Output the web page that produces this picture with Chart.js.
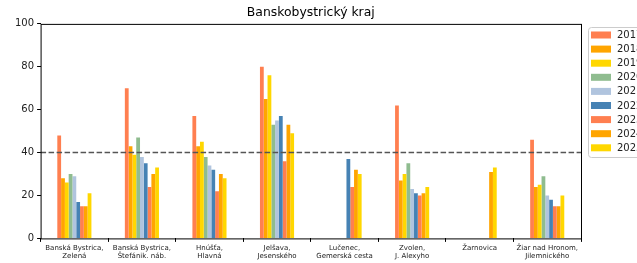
<!DOCTYPE html>
<html>
<head>
<meta charset="utf-8">
<script src="https://cdn.jsdelivr.net/npm/chart.js@4"></script>
<style>
    html, body { margin: 0; padding: 0; background: #fff; overflow: hidden; }
    #wrap { width: 637px; height: 263px; position: relative; }
</style>
</head>
<body>
<div id="wrap"><canvas id="grafico" width="637" height="263"></canvas></div>
<script>
const titulo = 'Banskobystrický kraj';
const stanice = [
    ['Banská Bystrica,', 'Zelená'],
    ['Banská Bystrica,', 'Štefánik. náb.'],
    ['Hnúšťa,', 'Hlavná'],
    ['Jelšava,', 'Jesenského'],
    ['Lučenec,', 'Gemerská cesta'],
    ['Zvolen,', 'J. Alexyho'],
    ['Žarnovica'],
    ['Žiar nad Hronom,', 'Jilemnického']
];
const roky = ['2017', '2018', '2019', '2020', '2021', '2022', '2023', '2024', '2025'];
const farby = ['#ff7f50', '#ffa500', '#ffd700', '#8fbc8f', '#b0c4de', '#4682b4', '#ff7f50', '#ffa500', '#ffd700'];

// hodnoty po rokoch, poradie ako stanice
const r2017 = [48, 70, 57, 80, null, 62, null, 46];
const r2018 = [28, 43, 43, 65, null, 27, null, 24];
const r2019 = [26, 39, 45, 76, null, 30, null, 25];
const r2020 = [30, 47, 38, 53, null, 35, null, 29];
const r2021 = [29, 38, 34, 55, null, 23, null, 20];
const r2022 = [17, 35, 32, 57, 37, 21, null, 18];
const r2023 = [15, 24, 22, 36, 24, 20, null, 15];
const r2024 = [15, 30, 30, 53, 32, 21, 31, 15];
const r2025 = [21, 33, 28, 49, 30, 24, 33, 20];
const hodnoty = [r2017, r2018, r2019, r2020, r2021, r2022, r2023, r2024, r2025];

const limit = 40;
const yTicks = [0, 20, 40, 60, 80, 100];

// ramik okolo grafu + limitna ciara
const ramik = {
    id: 'ramik',
    afterDatasetsDraw(chart) {
        const { ctx, chartArea: a, scales } = chart;
        const y = scales.y.getPixelForValue(limit);
        ctx.save();
        ctx.strokeStyle = '#555';
        ctx.lineWidth = 1.5;
        ctx.setLineDash([5.5, 2.5]);
        ctx.beginPath();
        ctx.moveTo(a.left, y);
        ctx.lineTo(a.right, y);
        ctx.stroke();
        ctx.setLineDash([]);
        ctx.strokeStyle = '#000';
        ctx.lineWidth = 1;
        ctx.strokeRect(a.left + 0.5, a.top + 0.5, a.right - a.left, a.bottom - a.top);
        ctx.restore();
    }
};

// legenda vpravo (oreze sa na okraji)
const legenda = {
    id: 'legenda',
    afterDraw(chart) {
        const ctx = chart.ctx;
        const x0 = 588, y0 = 27, krok = 14.1;
        ctx.save();
        ctx.strokeStyle = '#cccccc';
        ctx.lineWidth = 1;
        ctx.beginPath();
        ctx.roundRect(x0 + 0.5, y0 + 0.5, 80, 130, 3);
        ctx.fillStyle = 'rgba(255,255,255,0.8)';
        ctx.fill();
        ctx.stroke();
        ctx.font = '10px "DejaVu Sans"';
        ctx.textBaseline = 'middle';
        chart.data.datasets.forEach((ds, i) => {
            const yc = y0 + 8 + i * krok;
            ctx.fillStyle = ds.backgroundColor;
            ctx.fillRect(x0 + 3, yc - 3.5, 20, 7);
            ctx.fillStyle = '#222';
            ctx.fillText(ds.label, x0 + 29, yc + 0.5);
        });
        ctx.restore();
    }
};

new Chart(document.getElementById('grafico'), {
    type: 'bar',
    data: {
        labels: stanice,
        datasets: roky.map((rok, i) => ({
            label: rok,
            data: hodnoty[i],
            backgroundColor: farby[i],
            borderWidth: 0,
            categoryPercentage: 0.505,
            barPercentage: 1.0
        }))
    },
    options: {
        responsive: false,
        animation: false,
        devicePixelRatio: 1,
        layout: { padding: { left: 12, right: 56, top: 0, bottom: 1 } },
        plugins: {
            legend: { display: false },
            tooltip: { enabled: false },
            title: {
                display: true,
                text: titulo,
                fullSize: false,
                color: '#000',
                font: { family: 'DejaVu Sans', size: 12.4, weight: 'normal' },
                padding: { top: 5, bottom: 4 }
            }
        },
        scales: {
            x: {
                grid: { display: true, drawOnChartArea: false, drawTicks: true, tickLength: 3.5, color: '#000' },
                border: { display: false },
                ticks: {
                    color: '#222',
                    font: { family: 'DejaVu Sans', size: 7, lineHeight: 1.15 },
                    padding: 2,
                    maxRotation: 0,
                    autoSkip: false
                }
            },
            y: {
                min: 0,
                max: 100,
                afterBuildTicks: (ax) => { ax.ticks = yTicks.map(v => ({ value: v })); },
                grid: { display: true, drawOnChartArea: false, drawTicks: true, tickLength: 3.5, color: '#000' },
                border: { display: false },
                ticks: {
                    color: '#222',
                    font: { family: 'DejaVu Sans', size: 10 },
                    padding: 3
                }
            }
        }
    },
    plugins: [ramik, legenda]
});
</script>
</body>
</html>
